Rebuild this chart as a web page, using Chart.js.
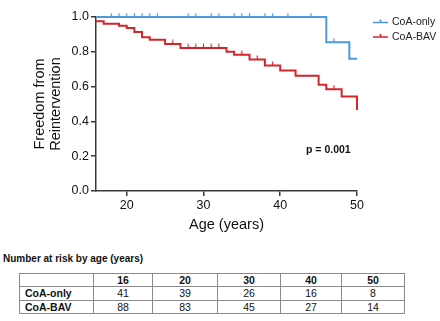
<!DOCTYPE html>
<html>
<head>
<meta charset="utf-8">
<script src="https://cdn.jsdelivr.net/npm/chart.js@4.4.1/dist/chart.umd.min.js"></script>
<style>
  body { margin: 0; background: #fff; font-family: "Liberation Sans", Arial, sans-serif; color: #111; }
  #wrap { position: relative; width: 440px; height: 321px; overflow: hidden; }
  #chart { position: absolute; left: 0; top: 0; }
  #riskTitle { position: absolute; left: 3px; top: 253px; font-size: 10px; font-weight: bold; }
  #risk { position: absolute; left: 19px; top: 273px; border-collapse: collapse; font-size: 10.5px; table-layout: fixed; }
  #risk td { border: 1px solid #8a8a8a; height: 12.4px; line-height: 12.4px; padding: 0; text-align: center; }
  #risk td.lbl { text-align: left; padding-left: 5px; font-weight: bold; }
  #risk tr.head td { font-weight: bold; }
</style>
</head>
<body>
<div id="wrap">
  <canvas id="chart" width="440" height="240"></canvas>
  <div id="riskTitle">Number at risk by age (years)</div>
  <table id="risk"></table>
</div>
<script>
// Kaplan-Meier steps: age where the curve drops, and the new level
const onlyTimes = [16, 46, 49, 50]
const onlySurv = [1.0, 0.855, 0.76, 0.76]
const bavTimes = [16, 17, 19, 20, 21, 22, 23, 25, 27, 33, 34, 36, 38, 40, 42, 45, 46, 48, 50]
const bavSurv = [0.975, 0.961, 0.95, 0.937, 0.914, 0.883, 0.869, 0.845, 0.822, 0.8, 0.783, 0.756, 0.721, 0.693, 0.662, 0.61, 0.585, 0.543, 0.466]

// censored observations (tick marks)
const onlyCensor = [18, 19, 20, 21, 22, 23, 24, 28, 29, 31, 32, 34, 35, 36, 38, 39, 41, 44, 47]
const bavCensor = [26, 28, 29, 30, 31, 32, 35, 37, 39, 47]

const xTicks = [20, 30, 40, 50]
const riskAges = [16, 20, 30, 40, 50]
const riskOnly = [41, 39, 26, 16, 8]
const riskBav = [88, 83, 45, 27, 14]
const pText = 'p = 0.001'

const blue = '#4c9ad8'
const red = '#d1262c'
const axisColor = '#3a3a3a'
const font = '"Liberation Sans", Arial, sans-serif'

function toPoints(times, surv) {
  return times.map((t, i) => ({ x: t, y: surv[i] }))
}

// level of the step curve at age t
function levelAt(times, surv, t) {
  let v = surv[0]
  times.forEach((tt, i) => { if (tt <= t) v = surv[i] })
  return v
}

function censorPoints(list, times, surv) {
  return list.map(t => ({ x: t, y: levelAt(times, surv, t) }))
}

function tickMark(color) {
  const c = document.createElement('canvas')
  c.width = 3
  c.height = 9
  const g = c.getContext('2d')
  g.strokeStyle = color
  g.lineWidth = 1.2
  g.beginPath()
  g.moveTo(1.5, 0.5)
  g.lineTo(1.5, 4.5)
  g.stroke()
  return c
}

const extras = {
  id: 'extras',
  afterDraw(chart) {
    const ctx = chart.ctx
    ctx.save()
    const items = [[chart.data.datasets[0], 22.5], [chart.data.datasets[1], 37]]
    items.forEach(([ds, y]) => {
      ctx.strokeStyle = ds.borderColor
      ctx.lineWidth = 1.6
      ctx.beginPath()
      ctx.moveTo(373, y)
      ctx.lineTo(388, y)
      ctx.moveTo(380.5, y)
      ctx.lineTo(380.5, y - 3)
      ctx.stroke()
      ctx.fillStyle = '#222'
      ctx.font = '10.5px ' + font
      ctx.textBaseline = 'middle'
      ctx.textAlign = 'left'
      ctx.fillText(ds.label, 392, y)
    })
    ctx.font = 'bold 10.5px ' + font
    ctx.fillStyle = '#111'
    ctx.fillText(pText, 306, 150)
    ctx.restore()
  }
}

const ctx = document.getElementById('chart').getContext('2d')
new Chart(ctx, {
  type: 'line',
  data: {
    datasets: [
      { label: 'CoA-only', data: toPoints(onlyTimes, onlySurv), borderColor: blue, borderWidth: 2, stepped: true, pointRadius: 0, clip: false },
      { label: 'CoA-BAV', data: toPoints(bavTimes, bavSurv), borderColor: red, borderWidth: 2, stepped: true, pointRadius: 0, clip: false },
      { label: 'only-c', data: censorPoints(onlyCensor, onlyTimes, onlySurv), showLine: false, pointStyle: tickMark(blue), pointRadius: 4, clip: false },
      { label: 'bav-c', data: censorPoints(bavCensor, bavTimes, bavSurv), showLine: false, pointStyle: tickMark(red), pointRadius: 4, clip: false }
    ]
  },
  options: {
    responsive: false,
    animation: false,
    devicePixelRatio: 1,
    layout: { padding: { left: 0, right: 83, top: 17, bottom: 0 } },
    plugins: { legend: { display: false }, tooltip: { enabled: false } },
    scales: {
      x: {
        type: 'linear',
        min: 16,
        max: 50,
        afterBuildTicks: s => { s.ticks = xTicks.map(v => ({ value: v })) },
        afterFit: s => { s.height = 49 },
        grid: { drawOnChartArea: false, drawTicks: true, tickLength: 5, color: axisColor, lineWidth: 1.5 },
        border: { color: axisColor, width: 1.5 },
        ticks: { color: '#111', font: { family: font, size: 12.5 }, padding: 2 },
        title: { display: true, text: 'Age (years)', color: '#111', font: { family: font, size: 14.5, lineHeight: 1.2 }, padding: { top: 0, bottom: 6 } }
      },
      y: {
        min: 0,
        max: 1,
        afterFit: s => { s.width = 96 },
        grid: { drawOnChartArea: false, drawTicks: true, tickLength: 5, color: axisColor, lineWidth: 1.5 },
        border: { color: axisColor, width: 1.5 },
        ticks: { stepSize: 0.2, color: '#111', font: { family: font, size: 12.5 }, padding: 2, callback: v => v.toFixed(1) },
        title: { display: true, text: ['Freedom from', 'Reintervention'], color: '#111', font: { family: font, size: 14.5, lineHeight: 1.1 }, padding: { top: 32, bottom: 0 } }
      }
    }
  },
  plugins: [extras]
})

// number at risk table
const table = document.getElementById('risk')
const widths = [74, 59, 65, 63, 61, 63]
let html = '<colgroup>' + widths.map(w => `<col style="width:${w}px">`).join('') + '</colgroup>'
html += '<tr class="head"><td></td>' + riskAges.map(a => `<td>${a}</td>`).join('') + '</tr>'
html += '<tr><td class="lbl">CoA-only</td>' + riskOnly.map(v => `<td>${v}</td>`).join('') + '</tr>'
html += '<tr><td class="lbl">CoA-BAV</td>' + riskBav.map(v => `<td>${v}</td>`).join('') + '</tr>'
table.innerHTML = html
</script>
</body>
</html>
